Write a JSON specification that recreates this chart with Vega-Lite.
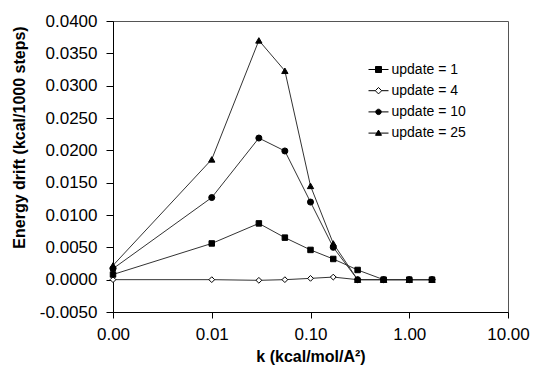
{
  "$schema": "https://vega.github.io/schema/vega-lite/v6.json",
  "autosize": {"type": "none"},
  "padding": {"left": 113, "top": 21, "right": 25, "bottom": 59},
  "width": 395,
  "height": 291,
  "background": "white",
  "config": {
    "font": "Liberation Sans",
    "view": {"stroke": "#555", "strokeWidth": 1},
    "axis": {"grid": false, "domainColor": "#000", "tickColor": "#000", "labelColor": "#000", "titleColor": "#000", "labelFont": "Liberation Sans", "titleFont": "Liberation Sans", "labelFontSize": 17, "titleFontSize": 16, "titleFontWeight": "bold"},
    "legend": {"labelFont": "Liberation Sans", "labelFontSize": 14, "labelColor": "#000"}
  },
  "data": {"values": [
    {"k": 0.001, "drift": 0.0, "series": "update = 4"},
    {"k": 0.01, "drift": 0.0, "series": "update = 4"},
    {"k": 0.03, "drift": -0.0001, "series": "update = 4"},
    {"k": 0.055, "drift": 0.0, "series": "update = 4"},
    {"k": 0.1, "drift": 0.0002, "series": "update = 4"},
    {"k": 0.17, "drift": 0.0004, "series": "update = 4"},
    {"k": 0.3, "drift": 0.0, "series": "update = 4"},
    {"k": 0.55, "drift": 0.0, "series": "update = 4"},
    {"k": 1.0, "drift": 0.0, "series": "update = 4"},
    {"k": 1.7, "drift": 0.0, "series": "update = 4"},
    {"k": 0.001, "drift": 0.0022, "series": "update = 25"},
    {"k": 0.01, "drift": 0.0186, "series": "update = 25"},
    {"k": 0.03, "drift": 0.037, "series": "update = 25"},
    {"k": 0.055, "drift": 0.0323, "series": "update = 25"},
    {"k": 0.1, "drift": 0.0145, "series": "update = 25"},
    {"k": 0.17, "drift": 0.0056, "series": "update = 25"},
    {"k": 0.3, "drift": 0.0, "series": "update = 25"},
    {"k": 0.55, "drift": 0.0, "series": "update = 25"},
    {"k": 1.0, "drift": 0.0, "series": "update = 25"},
    {"k": 1.7, "drift": 0.0, "series": "update = 25"},
    {"k": 0.001, "drift": 0.0017, "series": "update = 10"},
    {"k": 0.01, "drift": 0.0127, "series": "update = 10"},
    {"k": 0.03, "drift": 0.0219, "series": "update = 10"},
    {"k": 0.055, "drift": 0.0199, "series": "update = 10"},
    {"k": 0.1, "drift": 0.012, "series": "update = 10"},
    {"k": 0.17, "drift": 0.005, "series": "update = 10"},
    {"k": 0.3, "drift": 0.0, "series": "update = 10"},
    {"k": 0.55, "drift": 0.0, "series": "update = 10"},
    {"k": 1.0, "drift": 0.0, "series": "update = 10"},
    {"k": 1.7, "drift": 0.0, "series": "update = 10"},
    {"k": 0.001, "drift": 0.0008, "series": "update = 1"},
    {"k": 0.01, "drift": 0.0056, "series": "update = 1"},
    {"k": 0.03, "drift": 0.0087, "series": "update = 1"},
    {"k": 0.055, "drift": 0.0065, "series": "update = 1"},
    {"k": 0.1, "drift": 0.0046, "series": "update = 1"},
    {"k": 0.17, "drift": 0.0032, "series": "update = 1"},
    {"k": 0.3, "drift": 0.0015, "series": "update = 1"},
    {"k": 0.55, "drift": 0.0, "series": "update = 1"},
    {"k": 1.0, "drift": 0.0, "series": "update = 1"},
    {"k": 1.7, "drift": 0.0, "series": "update = 1"}
  ]},
  "encoding": {
    "x": {"field": "k", "type": "quantitative",
      "scale": {"type": "log", "domain": [0.001, 10], "nice": false},
      "axis": {"values": [0.001, 0.01, 0.1, 1, 10], "format": ".2f", "labelFlush": false, "labelBound": false, "labelOverlap": false, "tickSize": 6, "labelPadding": 8, "titlePadding": 6, "title": "k (kcal/mol/A²)"}},
    "y": {"field": "drift", "type": "quantitative",
      "scale": {"domain": [-0.005, 0.04], "nice": false, "zero": false},
      "axis": {"values": [-0.005, 0, 0.005, 0.01, 0.015, 0.02, 0.025, 0.03, 0.035, 0.04], "labelExpr": "datum.value < 0 ? '-' + format(-datum.value, '.4f') : format(datum.value, '.4f')", "labelOverlap": false, "tickSize": 7, "labelPadding": 9, "title": "Energy drift (kcal/1000 steps)", "titleX": -94, "titleY": 116, "titleAngle": -90, "titleAlign": "center", "titleBaseline": "middle"}}
  },
  "layer": [
    {
      "mark": {"type": "point", "filled": true, "size": 1, "stroke": "#000", "strokeWidth": 0.1},
      "encoding": {
        "shape": {"field": "series", "type": "nominal",
          "scale": {"domain": ["update = 1", "update = 4", "update = 10", "update = 25"],
            "range": [
              "M-1,0H1M-0.3,-0.3H0.3V0.3H-0.3Z",
              "M-1,0H-0.32M0.32,0H1M0,-0.32L0.32,0L0,0.32L-0.32,0Z",
              "M-1,0H1M0.27,0A0.27,0.27,0,1,1,-0.27,0A0.27,0.27,0,1,1,0.27,0Z",
              "M-1,0H1M0,-0.3L0.3,0.22L-0.3,0.22Z"
            ]},
          "legend": {"title": null, "orient": "none", "legendX": 255, "legendY": 38, "padding": 0, "symbolSize": 400, "symbolStrokeWidth": 1, "symbolStrokeColor": "#000", "symbolOpacity": 1, "labelOffset": 2.5, "rowPadding": 3.2,
            "encode": {"symbols": {"update": {"stroke": {"value": "#000"}, "strokeWidth": {"value": 1}}}}}},
        "fill": {"field": "series", "type": "nominal",
          "scale": {"domain": ["update = 1", "update = 4", "update = 10", "update = 25"], "range": ["#000", "#fff", "#000", "#000"]},
          "legend": {"title": null, "orient": "none", "legendX": 255, "legendY": 38, "padding": 0, "symbolSize": 400, "symbolStrokeWidth": 1, "symbolStrokeColor": "#000", "symbolOpacity": 1, "labelOffset": 2.5, "rowPadding": 3.2,
            "encode": {"symbols": {"update": {"stroke": {"value": "#000"}, "strokeWidth": {"value": 1}}}}}}
      }
    },
    {
      "mark": {"type": "line", "color": "#333", "strokeWidth": 1},
      "encoding": {"detail": {"field": "series", "type": "nominal"}}
    },
    {
      "mark": {"type": "point", "filled": true, "stroke": "#000", "strokeWidth": 1, "opacity": 1},
      "encoding": {
        "shape": {"field": "series", "type": "nominal",
          "scale": {"domain": ["update = 1", "update = 4", "update = 10", "update = 25"], "range": ["square", "diamond", "circle", "triangle-up"]},
          "legend": null},
        "fill": {"field": "series", "type": "nominal",
          "scale": {"domain": ["update = 1", "update = 4", "update = 10", "update = 25"], "range": ["#000", "#fff", "#000", "#000"]},
          "legend": null},
        "size": {"field": "series", "type": "nominal",
          "scale": {"domain": ["update = 1", "update = 4", "update = 10", "update = 25"], "range": [30, 40, 26, 36]},
          "legend": null}
      }
    }
  ],
  "resolve": {"scale": {"shape": "independent", "fill": "independent"}}
}
